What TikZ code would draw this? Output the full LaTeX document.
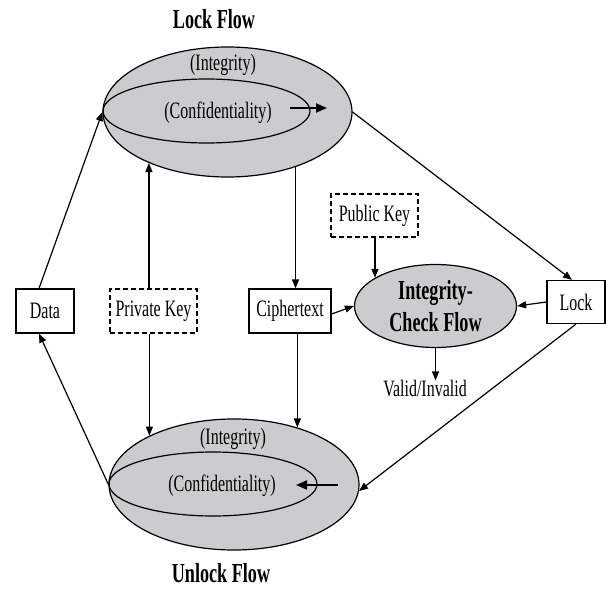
\documentclass[tikz,border=0pt]{standalone}
\usepackage{fontspec}
\setmainfont{Liberation Serif}
\newfontfamily\condn{Liberation Serif}[FakeStretch=0.68]
\newfontfamily\condb{Liberation Serif}[FakeStretch=0.66]
\usetikzlibrary{arrows.meta,shapes.geometric}
\definecolor{shade}{RGB}{204,204,206}
\tikzset{
  txt/.style={font=\condn\fontsize{23.5}{26}\selectfont, inner sep=0pt},
  btxt/.style={font=\condb\bfseries\fontsize{27.5}{32}\selectfont, inner sep=0pt, align=center},
  box/.style={draw, line width=1.2pt, inner sep=0pt, txt},
  dbox/.style={box, dash pattern=on 5pt off 3pt},
  oval/.style={ellipse, draw, line width=1.2pt, fill=shade, inner sep=0pt},
  ioval/.style={ellipse, draw, line width=1.2pt, inner sep=0pt},
  arr/.style={line width=1.2pt, -{Triangle[length=9pt,width=7pt]}},
  iarr/.style={line width=2pt, -{Triangle[length=11pt,width=9pt]}},
}
\begin{document}
\begin{tikzpicture}[x=1pt,y=-1pt]
\useasboundingbox (0,0) rectangle (606,589);
% top (lock) flow
\node[oval, minimum width=249pt, minimum height=130pt] (top) at (227.5,112) {};
\node[ioval, minimum width=207pt, minimum height=64pt] (topin) at (206.5,111) {};
\node[txt] (ti) at (223,65) {(Integrity)};
\node[txt] (tc) at (218,113) {(Confidentiality)};
\coordinate (ta1) at (290,108);
\coordinate (ta2) at (327,108);
\draw[iarr] (ta1) -- (ta2);
\node[btxt] (lockflow) at (214,19) {Lock Flow};
% bottom (unlock) flow
\node[oval, minimum width=250pt, minimum height=131pt] (bot) at (234,484.5) {};
\node[ioval, minimum width=208pt, minimum height=64pt] (botin) at (213,484) {};
\node[txt] (bi) at (233,439) {(Integrity)};
\node[txt] (bc) at (222,486) {(Confidentiality)};
\coordinate (ba1) at (338,485);
\coordinate (ba2) at (296,485);
\draw[iarr] (ba1) -- (ba2);
\node[btxt] (unlockflow) at (221,573) {Unlock Flow};
% boxes
\node[box, minimum width=58pt, minimum height=44pt] (data) at (45,311) {Data};
\node[dbox, minimum width=87pt, minimum height=44pt] (pk) at (153.5,311) {Private Key};
\node[box, minimum width=82pt, minimum height=44pt] (ct) at (290,311) {Ciphertext};
\node[box, minimum width=58pt, minimum height=43pt] (lock) at (576,302) {Lock};
\node[dbox, minimum width=87pt, minimum height=43pt] (pub) at (374.5,215.5) {Public Key};
% integrity check
\node[oval, minimum width=162pt, minimum height=83pt, btxt] (icf) at (435.5,306) {Integrity-\\Check Flow};
\node[txt] (vi) at (425,389) {Valid/Invalid};
% connectors
\draw[arr] ([xshift=-6pt]data.north) -- (top.west);
\draw[arr] (bot.west) -- ([xshift=-6pt]data.south);
\draw[arr] (pk.north -| top.213.3) -- (top.213.3);
\draw[arr] (pk.south -| bot.150) -- (bot.150);
\draw[arr] (top.321.6) -- (top.321.6 |- ct.north);
\draw[arr] (ct.south -| bot.42.5) -- (bot.42.5);
\draw[arr] ([yshift=-3pt]ct.east) -- (icf.west);
\draw[arr] (icf.155.4 |- pub.south) -- (icf.155.4);
\draw[arr] (lock.west) -- (icf.east);
\draw[arr] (icf.south) -- (icf.south |- vi.north);
\draw[arr] (top.east) -- ([xshift=-4pt]lock.north);
\draw[arr] (lock.south) -- (bot.357);
\end{tikzpicture}
\end{document}
